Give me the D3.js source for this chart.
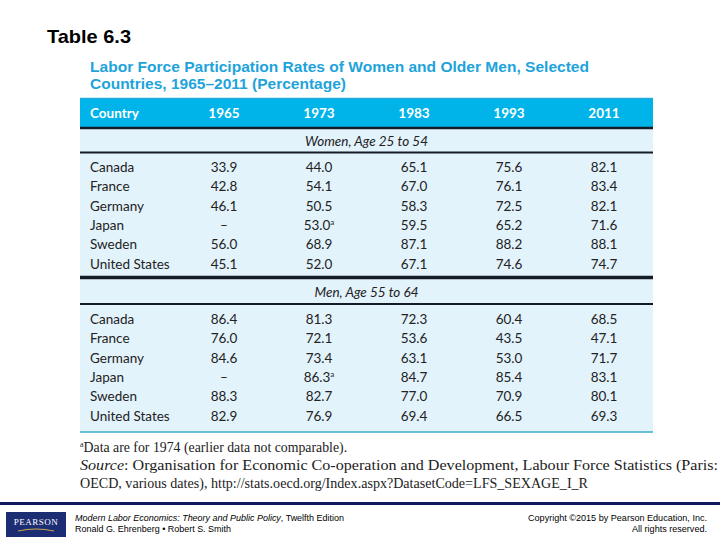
<!DOCTYPE html>
<html><head><meta charset="utf-8">
<script src="https://cdn.jsdelivr.net/npm/d3@7"></script>
<style>html,body{margin:0;padding:0;background:#fff;overflow:hidden}</style>
</head><body>
<script>
const countries = ["Canada","France","Germany","Japan","Sweden","United States"];
const years = ["1965","1973","1983","1993","2011"];
const womenValues = [
  [33.9,44.0,65.1,75.6,82.1],
  [42.8,54.1,67.0,76.1,83.4],
  [46.1,50.5,58.3,72.5,82.1],
  [null,53.0,59.5,65.2,71.6],
  [56.0,68.9,87.1,88.2,88.1],
  [45.1,52.0,67.1,74.6,74.7]
];
const menValues = [
  [86.4,81.3,72.3,60.4,68.5],
  [76.0,72.1,53.6,43.5,47.1],
  [84.6,73.4,63.1,53.0,71.7],
  [null,86.3,84.7,85.4,83.1],
  [88.3,82.7,77.0,70.9,80.1],
  [82.9,76.9,69.4,66.5,69.3]
];
const footnoteCells = [["Japan","1973"]];
const sections = ["Women, Age 25 to 54","Men, Age 55 to 64"];

const W=720,H=540;
const svg=d3.select("body").append("svg").attr("width",W).attr("height",H);
const tableFont="Lato, 'Open Sans', sans-serif";

svg.append("text").attr("x",47).attr("y",43).text("Table 6.3")
  .attr("font-family","'Liberation Sans', Arial, sans-serif").attr("font-weight","bold")
  .attr("font-size",19).attr("fill","#000").attr("textLength",84).attr("lengthAdjust","spacingAndGlyphs");

const titleColor="#1ea3da";
const titleLines=["Labor Force Participation Rates of Women and Older Men, Selected","Countries, 1965\u20132011 (Percentage)"];
const titleLens=[499,256];
titleLines.forEach((t,i)=>{
  svg.append("text").attr("x",90).attr("y",72+i*17).text(t)
    .attr("font-family","'Liberation Sans', Arial, sans-serif").attr("font-weight","bold")
    .attr("font-size",15.5).attr("fill",titleColor)
    .attr("textLength",titleLens[i]).attr("lengthAdjust","spacingAndGlyphs");
});

const left=80,right=653;
svg.append("line").attr("x1",left).attr("x2",right).attr("y1",98.5).attr("y2",98.5).attr("stroke","#2aa8dc").attr("stroke-width",1.5);
svg.append("rect").attr("x",left).attr("y",128).attr("width",right-left).attr("height",304).attr("fill","#e3f3fc");
svg.append("rect").attr("x",left).attr("y",99).attr("width",right-left).attr("height",28).attr("fill","#00b3e8");

const x=d3.scalePoint().domain(years).range([224,604]);
const labelX=90;

const hdr=svg.append("g").attr("font-family",tableFont).attr("font-weight","bold").attr("font-size",13.5).attr("fill","#fff");
hdr.append("text").attr("x",labelX).attr("y",118).text("Country");
hdr.selectAll("text.y").data(years).join("text").attr("class","y")
  .attr("x",d=>x(d)).attr("y",118).attr("text-anchor","middle").text(d=>d);

const dark="#141c28";
function hline(y,w){svg.append("line").attr("x1",left).attr("x2",right).attr("y1",y).attr("y2",y).attr("stroke",dark).attr("stroke-width",w);}
hline(128,2.5); hline(152.5,2); hline(277.5,3.5); hline(304,2);
svg.append("line").attr("x1",left).attr("x2",right).attr("y1",432).attr("y2",432).attr("stroke","#3aaecb").attr("stroke-width",1.5);

const fmt=d3.format(".1f");
function block(title,titleY,values,y0){
  svg.append("text").attr("x",(left+right)/2).attr("y",titleY).attr("text-anchor","middle")
    .attr("font-family",tableFont).attr("font-style","italic").attr("font-size",13.5).attr("fill","#222").text(title);
  const y=d3.scalePoint().domain(countries).range([y0,y0+96.5]);
  const g=svg.append("g").attr("font-family",tableFont).attr("font-size",13.5).attr("fill","#222");
  g.selectAll("text.c").data(countries).join("text").attr("class","c")
    .attr("x",labelX).attr("y",d=>y(d)).text(d=>d);
  countries.forEach((c,i)=>{
    years.forEach((yr,j)=>{
      const v=values[i][j];
      const t=g.append("text").attr("x",x(yr)).attr("y",y(c)).attr("text-anchor","middle");
      t.append("tspan").text(v==null?"\u2013":fmt(v));
      if(footnoteCells.some(f=>f[0]===c&&f[1]===yr)){
        t.append("tspan").attr("font-size",8).attr("dy",-5).text("a");
      }
    });
  });
}
block(sections[0],146,womenValues,172);
block(sections[1],297,menValues,324);

const serif="'Liberation Serif','DejaVu Serif',serif";
const fn=svg.append("text").attr("x",80).attr("y",452).attr("font-family",serif).attr("font-size",13.8).attr("fill","#222");
fn.append("tspan").attr("font-size",8).attr("dy",-5).text("a");
fn.append("tspan").attr("dy",5).text("Data are for 1974 (earlier data not comparable).");
const s1=svg.append("text").attr("x",80).attr("y",470).attr("font-family",serif).attr("font-size",13.8).attr("fill","#222").attr("textLength",638).attr("lengthAdjust","spacingAndGlyphs");
s1.append("tspan").attr("font-style","italic").text("Source");
s1.append("tspan").text(": Organisation for Economic Co-operation and Development, Labour Force Statistics (Paris:");
svg.append("text").attr("x",80).attr("y",488).attr("font-family",serif).attr("font-size",13.8).attr("fill","#222")
  .attr("textLength",508).attr("lengthAdjust","spacingAndGlyphs")
  .text("OECD, various dates), http://stats.oecd.org/Index.aspx?DatasetCode=LFS_SEXAGE_I_R");

// footer
svg.append("rect").attr("x",0).attr("y",502).attr("width",W).attr("height",3).attr("fill","#10195a");
svg.append("rect").attr("x",6).attr("y",512).attr("width",60).attr("height",25).attr("fill","#1d2d74");
svg.append("text").attr("x",36).attr("y",525).attr("text-anchor","middle").attr("font-family","'Liberation Serif',serif")
  .attr("font-size",9).attr("fill","#fff").attr("letter-spacing",0.5).text("PEARSON");
svg.append("path").attr("d","M18,531 Q36,527 54,531").attr("stroke","#c8a84a").attr("stroke-width",1).attr("fill","none");
const ff="'Liberation Sans', Arial, sans-serif";
const fs=8.6;
const f1=svg.append("text").attr("x",75).attr("y",521).attr("font-family",ff).attr("font-size",fs).attr("fill","#000")
  .attr("textLength",269).attr("lengthAdjust","spacingAndGlyphs");
f1.append("tspan").attr("font-style","italic").text("Modern Labor Economics: Theory and Public Policy");
f1.append("tspan").text(", Twelfth Edition");
svg.append("text").attr("x",75).attr("y",532).attr("font-family",ff).attr("font-size",fs).attr("fill","#000")
  .attr("textLength",156).attr("lengthAdjust","spacingAndGlyphs").text("Ronald G. Ehrenberg \u2022 Robert S. Smith");
svg.append("text").attr("x",707).attr("y",521).attr("text-anchor","end").attr("font-family",ff).attr("font-size",fs).attr("fill","#000")
  .attr("textLength",179).attr("lengthAdjust","spacingAndGlyphs").text("Copyright \u00a92015 by Pearson Education, Inc.");
svg.append("text").attr("x",707).attr("y",532).attr("text-anchor","end").attr("font-family",ff).attr("font-size",fs).attr("fill","#000")
  .attr("textLength",75).attr("lengthAdjust","spacingAndGlyphs").text("All rights reserved.");
</script>
</body></html>
